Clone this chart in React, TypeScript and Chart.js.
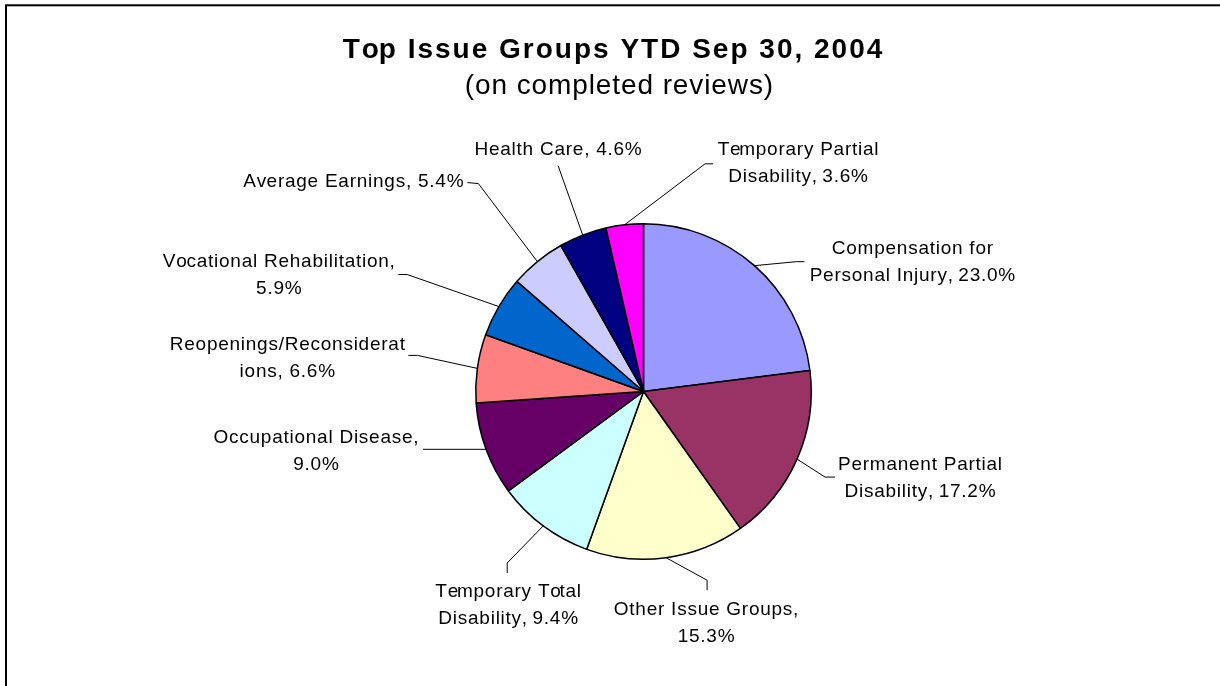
import React, { useEffect, useRef } from 'react';
import { Chart, registerables } from 'chart.js';

Chart.register(...registerables);

// ---------- data ----------
const TITLE = 'Top Issue Groups YTD Sep 30, 2004';
const SUBTITLE = '(on completed reviews)';

const categories = [
  'Compensation for Personal Injury',
  'Permanent Partial Disability',
  'Other Issue Groups',
  'Temporary Total Disability',
  'Occupational Disease',
  'Reopenings/Reconsiderations',
  'Vocational Rehabilitation',
  'Average Earnings',
  'Health Care',
  'Temporary Partial Disability',
];

const values = [23.0, 17.2, 15.3, 9.4, 9.0, 6.6, 5.9, 5.4, 4.6, 3.6];

// ---------- styles ----------
const colors = [
  '#9999FF',
  '#993366',
  '#FFFFCC',
  '#CCFFFF',
  '#660066',
  '#FF8080',
  '#0066CC',
  '#CCCCFF',
  '#000080',
  '#FF00FF',
];

// where each label wraps (characters in the first line, 0 = single line)
const labelBreaks = [16, 17, 19, 15, 21, 23, 26, 0, 0, 17];

// label layout, as offsets from the midpoint of each slice's outer edge
const labelLayout = [
  { text: [158, -5.5], leader: [[42, -4], [50, -4]] },
  { text: [123, 17.8], leader: [[28, 18], [38, 18]] },
  { text: [40, 63.5], leader: [[41, 22.5], [41, 32.5]] },
  { text: [-35, 77.8], leader: [[-36, 37], [-36, 47]] },
  { text: [-170, 0.6], leader: [[-63, 0]] },
  { text: [-190, -12], leader: [[-60, -13], [-69, -13]] },
  { text: [-220, -33.4], leader: [[-91.6, -32], [-100.6, -32]] },
  { text: [-184, -81], leader: [[-59, -78], [-70, -79]] },
  { text: [-24.6, -87.4], leader: [[-24.6, -69.4]] },
  { text: [173.5, -63], leader: [[80.5, -61], [88.5, -61]] },
];

const FONT = "'Liberation Sans', Arial, Helvetica, sans-serif";
const LABEL_SIZE = 19;
const LABEL_SPACING = 0.75;
const LABEL_LINE = 27;

function spacedWidth(ctx: CanvasRenderingContext2D, text: string, spacing: number) {
  return ctx.measureText(text).width + spacing * Math.max(text.length - 1, 0);
}

function drawSpaced(
  ctx: CanvasRenderingContext2D,
  text: string,
  cx: number,
  y: number,
  spacing: number
) {
  const w = spacedWidth(ctx, text, spacing);
  const x0 = cx - w / 2;
  ctx.textAlign = 'left';
  for (let i = 0; i < text.length; i++) {
    const off = ctx.measureText(text.slice(0, i)).width + spacing * i;
    ctx.fillText(text[i], x0 + off, y);
  }
}

function labelLines(i: number): string[] {
  const full = `${categories[i]}, ${values[i].toFixed(1)}%`;
  const b = labelBreaks[i];
  if (!b) return [full];
  return [full.slice(0, b).trim(), full.slice(b).trim()];
}

const decorPlugin = {
  id: 'decor',
  afterDraw(chart: any) {
    const ctx: CanvasRenderingContext2D = chart.ctx;
    ctx.save();

    // frame
    ctx.strokeStyle = '#000';
    ctx.lineWidth = 2;
    ctx.strokeRect(6, 5.3, 1400, 900);

    // titles
    ctx.fillStyle = '#000';
    ctx.textBaseline = 'alphabetic';
    ctx.font = `bold 28px ${FONT}`;
    drawSpaced(ctx, TITLE, 612.5, 57.7, 2);
    ctx.font = `28px ${FONT}`;
    drawSpaced(ctx, SUBTITLE, 619, 93.5, 0.9);

    // labels + leader lines
    const meta = chart.getDatasetMeta(0);
    ctx.font = `${LABEL_SIZE}px ${FONT}`;
    meta.data.forEach((arc: any, i: number) => {
      const p = arc.getProps(['x', 'y', 'startAngle', 'endAngle', 'outerRadius'], true);
      const mid = (p.startAngle + p.endAngle) / 2;
      const ex = p.x + Math.cos(mid) * p.outerRadius;
      const ey = p.y + Math.sin(mid) * p.outerRadius;
      const lay = labelLayout[i];

      ctx.strokeStyle = '#000';
      ctx.lineWidth = 1;
      ctx.beginPath();
      ctx.moveTo(ex, ey);
      lay.leader.forEach(([dx, dy]) => ctx.lineTo(ex + dx, ey + dy));
      ctx.stroke();

      const lines = labelLines(i);
      const cx = ex + lay.text[0];
      const cy = ey + lay.text[1];
      const top = cy - ((lines.length - 1) * LABEL_LINE) / 2;
      ctx.fillStyle = '#000';
      lines.forEach((ln, k) => {
        const lc = top + k * LABEL_LINE;
        drawSpaced(ctx, ln, cx, lc + 0.36 * LABEL_SIZE, LABEL_SPACING);
      });
    });

    ctx.restore();
  },
};

export default function App() {
  const ref = useRef<HTMLCanvasElement | null>(null);

  useEffect(() => {
    if (!ref.current) return;
    const chart = new Chart(ref.current, {
      type: 'pie',
      data: {
        labels: categories,
        datasets: [
          {
            data: values,
            backgroundColor: colors,
            borderColor: '#000',
            borderWidth: 1.5,
          },
        ],
      },
      options: {
        responsive: false,
        animation: false,
        devicePixelRatio: 1,
        layout: { padding: { top: 223, bottom: 126, left: 100, right: 33 } },
        plugins: {
          legend: { display: false },
          tooltip: { enabled: false },
          title: { display: false },
        },
      },
      plugins: [decorPlugin],
    });
    return () => chart.destroy();
  }, []);

  return (
    <div
      style={{
        position: 'absolute',
        left: 0,
        top: 0,
        width: 1220,
        height: 686,
        background: '#fff',
      }}
    >
      <canvas ref={ref} width={1220} height={686} style={{ width: 1220, height: 686, display: 'block' }} />
    </div>
  );
}
